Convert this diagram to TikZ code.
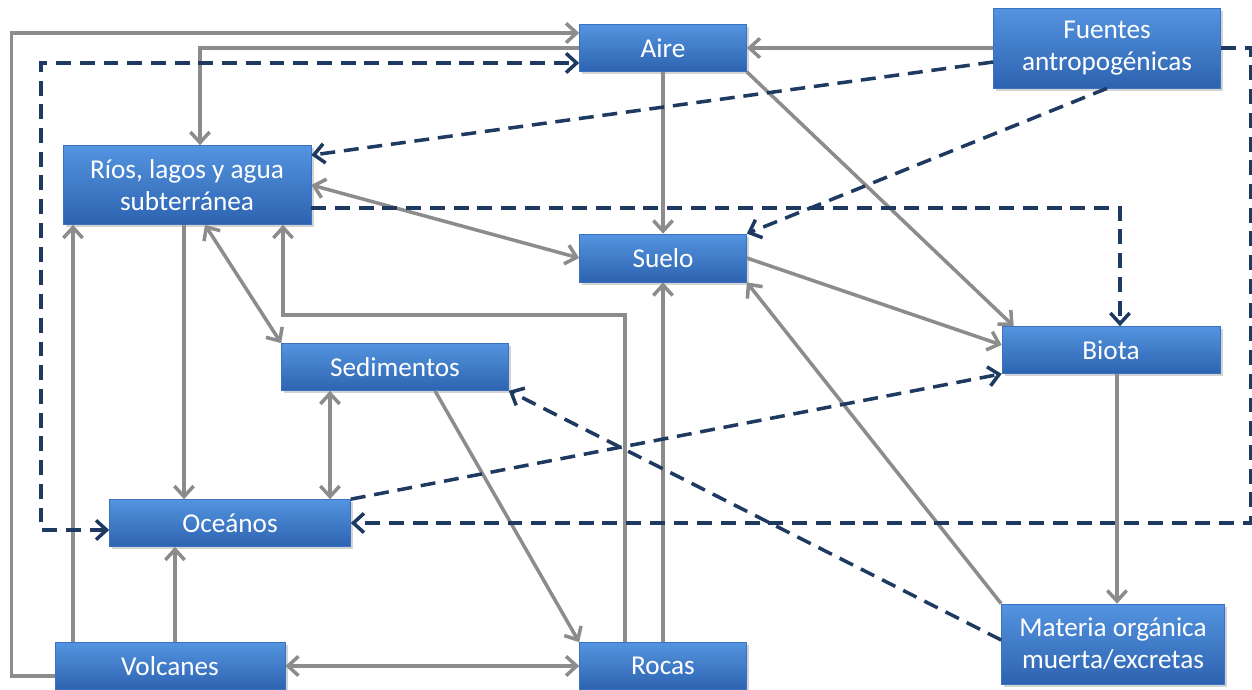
\documentclass[tikz,border=0pt]{standalone}
\usepackage{fontspec}
\setmainfont{Carlito}
\usetikzlibrary{arrows.meta,calc,shadows}

\begin{document}
\begin{tikzpicture}[x=0.02cm,y=-0.02cm]

% Colours
\definecolor{boxtop}{HTML}{5494E0}
\definecolor{boxbottom}{HTML}{2D63B0}
\definecolor{boxedge}{HTML}{3B72C0}
\colorlet{flowcolor}{black!45}
\definecolor{humancolor}{HTML}{1F3A60}

% Styles
\tikzstyle{box}=[rectangle, draw=boxedge, line width=0.4pt, top color=boxtop, bottom color=boxbottom,
  text=white, align=center, inner sep=0pt, font=\fontsize{15.5}{18}\selectfont,
  drop shadow={shadow xshift=1.5pt, shadow yshift=-1.5pt, opacity=0.35}]
\tikzstyle{flow}=[line width=2pt, draw=flowcolor, >={Straight Barb[length=6pt,width=11pt]}]
\tikzstyle{human}=[line width=2pt, draw=humancolor, dash pattern=on 8.5pt off 5pt,
  >={Straight Barb[length=6pt,width=11pt]}]

\useasboundingbox (0,0) rectangle (1252,690);

% Compartments
\node[box, minimum width=3.34cm, minimum height=0.94cm] (aire) at (663,48) {Aire};
\node[box, minimum width=4.54cm, minimum height=1.60cm] (fuen) at (1107,48) {Fuentes\\antropogénicas};
\node[box, minimum width=4.96cm, minimum height=1.58cm] (rios) at (187,185) {Ríos, lagos y agua\\subterránea};
\node[box, minimum width=3.34cm, minimum height=0.96cm] (suelo) at (663,258) {Suelo};
\node[box, minimum width=4.54cm, minimum height=0.94cm] (sedi) at (395,367) {Sedimentos};
\node[box, minimum width=4.36cm, minimum height=0.94cm] (biota) at (1111,350) {Biota};
\node[box, minimum width=4.82cm, minimum height=0.94cm] (ocean) at (230,523) {Oceános};
\node[box, minimum width=4.60cm, minimum height=0.94cm] (volc) at (170,666) {Volcanes};
\node[box, minimum width=3.34cm, minimum height=0.94cm] (rocas) at (663,666) {Rocas};
\node[box, minimum width=4.46cm, minimum height=1.60cm] (mat) at (1113,644) {Materia orgánica\\muerta/excretas};

% Natural flows
\draw[flow, ->] ($(volc.west)+(0,10)$) -- ++(-43,0) |- ($(aire.west)+(0,-15)$);
\draw[flow, ->] (aire.west) -| (200,0 |- rios.north);
\draw[flow, ->] (fuen.west) -- (aire.east);
\draw[flow, ->] (aire.south) -- (suelo.north);
\draw[flow, ->] (aire.south east) -- ($(biota.north west)+(12,0)$);
\draw[flow, <->] (rios.east) -- (suelo.west);
\draw[flow, ->] (suelo.east) -- ($(biota.west)+(0,-5)$);
\draw[flow, ->] (184,0 |- rios.south) -- (184,0 |- ocean.north);
\draw[flow, <->] (205,0 |- rios.south) -- (sedi.north west);
\draw[flow, ->] (625,0 |- rocas.north) -- (625,315) -| (283,0 |- rios.south);
\draw[flow, ->] (73,0 |- volc.north) -- (73,0 |- rios.south);
\draw[flow, <->] (330,0 |- sedi.south) -- (330,0 |- ocean.north);
\draw[flow, ->] (435,0 |- sedi.south) -- (rocas.north west);
\draw[flow, ->] (mat.north west) -- (suelo.south east);
\draw[flow, ->] (rocas.north) -- (suelo.south);
\draw[flow, ->] (1117,0 |- biota.south) -- (1117,0 |- mat.north);
\draw[flow, ->] (175,0 |- volc.north) -- (175,0 |- ocean.south);
\draw[flow, <->] (volc.east) -- (rocas.west);

% Anthropogenic flows
\draw[human, ->] (fuen.east) -- ++(30,0) |- (ocean.east);
\draw[human, <->] ($(ocean.west)+(0,7)$) -- ++(-68,0) |- ($(aire.west)+(0,15)$);
\draw[human, ->] ($(fuen.west)+(0,14)$) -- ($(rios.north east)+(0,10)$);
\draw[human, ->] (fuen.south) -- (suelo.north east);
\draw[human, ->] ($(rios.east)+(0,23)$) -| ($(biota.north)+(9,0)$);
\draw[human, ->] ($(mat.west)+(0,-4)$) -- (sedi.south east);
\draw[human, ->] (ocean.north east) -- (biota.south west);

\end{tikzpicture}
\end{document}
